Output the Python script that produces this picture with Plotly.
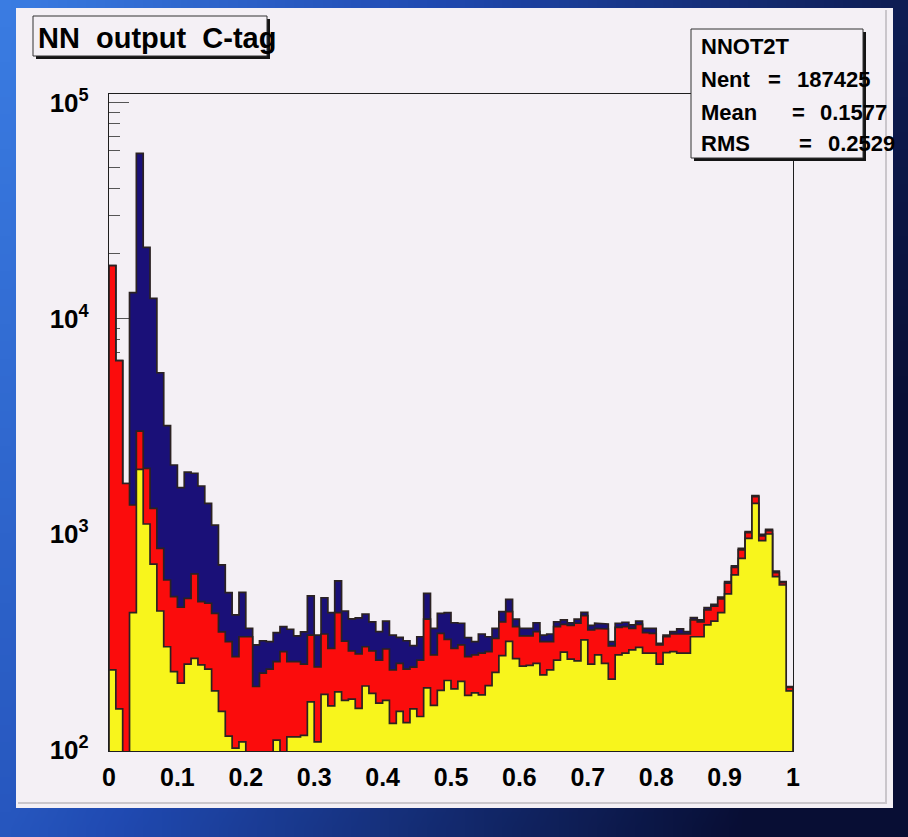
import base64
import struct
import zlib

import numpy as np
import plotly.graph_objects as go

# ---------------------------------------------------------------------------
# Histogram contents: NN output (C-tag), 100 bins on [0, 1]
# ---------------------------------------------------------------------------
bin_edges = np.linspace(0.0, 1.0, 101)

hist_navy = [
    17600, 6380, 1720, 13200, 58400, 21400, 12400, 5610, 3190, 2096,
    1645, 1940, 1919, 1675, 1392, 1104, 721, 536, 423, 538,
    366, 307, 321, 318, 350, 373, 363, 338, 353, 518,
    341, 508, 433, 608, 441, 405, 410, 427, 393, 354,
    396, 341, 333, 321, 305, 335, 532, 366, 430, 433,
    389, 387, 332, 318, 345, 335, 366, 438, 499, 404,
    366, 366, 389, 341, 345, 393, 401, 389, 404, 435,
    378, 387, 384, 318, 387, 391, 380, 396, 366, 366,
    312, 341, 354, 364, 354, 411, 401, 457, 473, 511,
    603, 715, 861, 1028, 1511, 1000, 1054, 676, 603, 197,
]

hist_red = [
    17600, 6380, 1720, 1367, 3010, 2023, 1320, 861, 614, 514,
    459, 505, 655, 487, 479, 430, 353, 318, 271, 335,
    335, 197, 227, 237, 257, 286, 257, 257, 250, 341,
    243, 345, 296, 433, 320, 288, 279, 301, 288, 261,
    294, 235, 252, 237, 242, 261, 404, 276, 347, 326,
    296, 307, 271, 276, 281, 286, 329, 393, 438, 373,
    338, 338, 354, 318, 318, 373, 382, 378, 387, 420,
    360, 366, 364, 304, 370, 373, 366, 382, 350, 347,
    307, 335, 345, 347, 345, 401, 393, 446, 465, 502,
    593, 703, 846, 1018, 1495, 982, 1039, 664, 597, 195,
]

hist_yellow = [
    235, 155, 60, 433, 2000, 1116, 728, 441, 301, 231,
    204, 250, 266, 248, 237, 188, 151, 116, 102, 109,
    60, 60, 60, 60, 111, 90, 115, 115, 117, 167,
    109, 181, 160, 186, 170, 172, 156, 198, 183, 165,
    170, 133, 151, 134, 155, 143, 194, 161, 189, 210,
    192, 208, 179, 184, 180, 199, 229, 274, 319, 265,
    245, 247, 252, 223, 235, 261, 284, 264, 259, 324,
    250, 276, 252, 213, 276, 281, 291, 299, 281, 281,
    250, 283, 286, 281, 281, 335, 335, 380, 396, 433,
    529, 648, 774, 958, 1392, 934, 1003, 636, 582, 188,
]

x_tick_vals = [round(0.1 * k, 1) for k in range(11)]
x_tick_text = ["0", "0.1", "0.2", "0.3", "0.4", "0.5", "0.6", "0.7", "0.8", "0.9", "1"]
y_tick_vals = [1e2, 1e3, 1e4, 1e5]
y_tick_text = ["10<sup>2</sup>", "10<sup>3</sup>", "10<sup>4</sup>", "10<sup>5</sup>"]
y_minor_vals = [m * 10 ** e for e in range(2, 5) for m in range(2, 10)]

stat_lines = [
    ("NNOT2T", None, None),
    ("Nent", "=", "187425"),
    ("Mean", "=", "0.1577"),
    ("RMS", "=", "0.2529"),
]

# ---------------------------------------------------------------------------
# Page geometry (pixels)
# ---------------------------------------------------------------------------
W, H = 908, 837
FX0, FX1 = 109, 793          # frame left / right
FY0, FY1 = 94, 751           # frame top / bottom
DECADE = 215.7               # pixels per decade on the log axis
y_lo = 2 + (750 - FY1) / DECADE
y_hi = 2 + (750 - FY0) / DECADE

CANVAS = "#f4f0f5"
FONT = "Liberation Sans, Arial, Helvetica, sans-serif"
INK = "#1e1e1e"


def px(xp):
    return (xp - FX0) / (FX1 - FX0)


def py(yp):
    return (FY1 - yp) / (FY1 - FY0)


def gradient_png(w=48, h=48):
    """Small RGB PNG with the blue backdrop gradient."""
    light = np.array([58, 124, 226], float)
    mid = np.array([32, 74, 178], float)
    dark = np.array([8, 14, 52], float)
    raw = bytearray()
    for j in range(h):
        raw.append(0)
        v = j / (h - 1)
        for i in range(w):
            u = i / (w - 1)
            t = min(1.0, max(0.0, 0.85 * u + 0.3 * v))
            if t < 0.4:
                c = light + (mid - light) * (t / 0.4)
            else:
                c = mid + (dark - mid) * ((t - 0.4) / 0.6)
            raw.extend(int(round(k)) for k in c)

    def chunk(tag, data):
        return (struct.pack(">I", len(data)) + tag + data
                + struct.pack(">I", zlib.crc32(tag + data) & 0xFFFFFFFF))

    png = (b"\x89PNG\r\n\x1a\n"
           + chunk(b"IHDR", struct.pack(">IIBBBBB", w, h, 8, 2, 0, 0, 0))
           + chunk(b"IDAT", zlib.compress(bytes(raw), 9))
           + chunk(b"IEND", b""))
    return "data:image/png;base64," + base64.b64encode(png).decode()


def step_polygon(values, floor=1e-1):
    """Closed step outline of a histogram, for filling down to the axis."""
    v = np.asarray(values, float)
    xs = np.repeat(bin_edges, 2)[1:-1]
    ys = np.repeat(v, 2)
    xs = np.concatenate([[bin_edges[0]], xs, [bin_edges[-1]]])
    ys = np.concatenate([[floor], ys, [floor]])
    return xs, ys


fig = go.Figure()

for values, color in [(hist_navy, "#1a1078"), (hist_red, "#fb0c0c"), (hist_yellow, "#f8f51c")]:
    xs, ys = step_polygon(values)
    fig.add_trace(go.Scatter(
        x=xs, y=ys, mode="lines", fill="toself", fillcolor=color,
        line=dict(color="#2b2222", width=1.7), hoverinfo="skip", showlegend=False,
    ))

shapes = [
    # canvas pad
    dict(type="rect", xref="paper", yref="paper", layer="below",
         x0=px(16), x1=px(893), y0=py(8), y1=py(808),
         fillcolor=CANVAS, line=dict(width=0)),
    # bevel lines of the pad
    dict(type="line", xref="paper", yref="paper", layer="below",
         x0=px(886), x1=px(886), y0=py(10), y1=py(804),
         line=dict(color="#cac6cb", width=2)),
    dict(type="line", xref="paper", yref="paper", layer="below",
         x0=px(18), x1=px(886), y0=py(803), y1=py(803),
         line=dict(color="#cac6cb", width=2)),
    # title box with shadow
    dict(type="rect", xref="paper", yref="paper", layer="above",
         x0=px(36), x1=px(270), y0=py(19), y1=py(59),
         fillcolor="#141414", line=dict(width=0)),
    dict(type="rect", xref="paper", yref="paper", layer="above",
         x0=px(33), x1=px(267), y0=py(16), y1=py(56),
         fillcolor=CANVAS, line=dict(color="#333333", width=1)),
    # statistics box with shadow
    dict(type="rect", xref="paper", yref="paper", layer="above",
         x0=px(694), x1=px(866), y0=py(32), y1=py(161),
         fillcolor="#141414", line=dict(width=0)),
    dict(type="rect", xref="paper", yref="paper", layer="above",
         x0=px(691), x1=px(863), y0=py(29), y1=py(158),
         fillcolor=CANVAS, line=dict(color="#333333", width=1)),
]

annotations = [
    dict(text="NN\u00a0\u00a0output\u00a0\u00a0C-tag", xref="paper", yref="paper",
         x=px(36), y=py(38), xanchor="left", yanchor="middle", showarrow=False,
         font=dict(family=FONT, size=29, color="#000000", weight="bold")),
]

stat_y = [46, 80, 112, 143]
stat_eq_x = [None, 766, 790, 797]
stat_val_x = [None, 795, 818, 826]
for (label, eq, val), yy, ex, vx in zip(stat_lines, stat_y, stat_eq_x, stat_val_x):
    annotations.append(dict(text=label, xref="paper", yref="paper", x=px(699), y=py(yy),
                            xanchor="left", yanchor="middle", showarrow=False,
                            font=dict(family=FONT, size=22, color="#000000", weight="bold")))
    if eq is not None:
        annotations.append(dict(text=eq, xref="paper", yref="paper", x=px(ex), y=py(yy),
                                xanchor="left", yanchor="middle", showarrow=False,
                                font=dict(family=FONT, size=22, color="#000000", weight="bold")))
        annotations.append(dict(text=val, xref="paper", yref="paper", x=px(vx), y=py(yy),
                                xanchor="left", yanchor="middle", showarrow=False,
                                font=dict(family=FONT, size=22, color="#000000", weight="bold")))

fig.update_layout(
    width=W, height=H,
    margin=dict(l=FX0, r=W - FX1, t=FY0, b=H - FY1, pad=0),
    paper_bgcolor="#0c1442",
    plot_bgcolor=CANVAS,
    showlegend=False,
    shapes=shapes,
    annotations=annotations,
    images=[dict(source=gradient_png(), xref="paper", yref="paper",
                 x=px(0), y=py(0), sizex=W / (FX1 - FX0), sizey=H / (FY1 - FY0),
                 xanchor="left", yanchor="top", sizing="stretch", layer="below")],
    xaxis=dict(
        range=[0, 1], showgrid=False, zeroline=False,
        showline=True, mirror=True, linecolor=INK, linewidth=1.2,
        tickmode="array", tickvals=x_tick_vals, ticktext=x_tick_text,
        ticks="", ticklabelstandoff=4,
        tickfont=dict(family=FONT, size=25, color="#000000", weight="bold"),
        layer="below traces",
    ),
    yaxis=dict(
        type="log", range=[y_lo, y_hi], showgrid=False, zeroline=False,
        showline=True, mirror=True, linecolor=INK, linewidth=1.2,
        tickmode="array", tickvals=y_tick_vals, ticktext=y_tick_text,
        ticks="inside", ticklen=20, tickwidth=1.2, tickcolor="#555555",
        minor=dict(tickmode="array", tickvals=y_minor_vals, ticks="inside",
                   ticklen=11, tickwidth=1.2, tickcolor="#555555", showgrid=False),
        ticklabelstandoff=14,
        tickfont=dict(family=FONT, size=26, color="#000000", weight="bold"),
        layer="below traces",
    ),
)

fig.write_html("out.html")
